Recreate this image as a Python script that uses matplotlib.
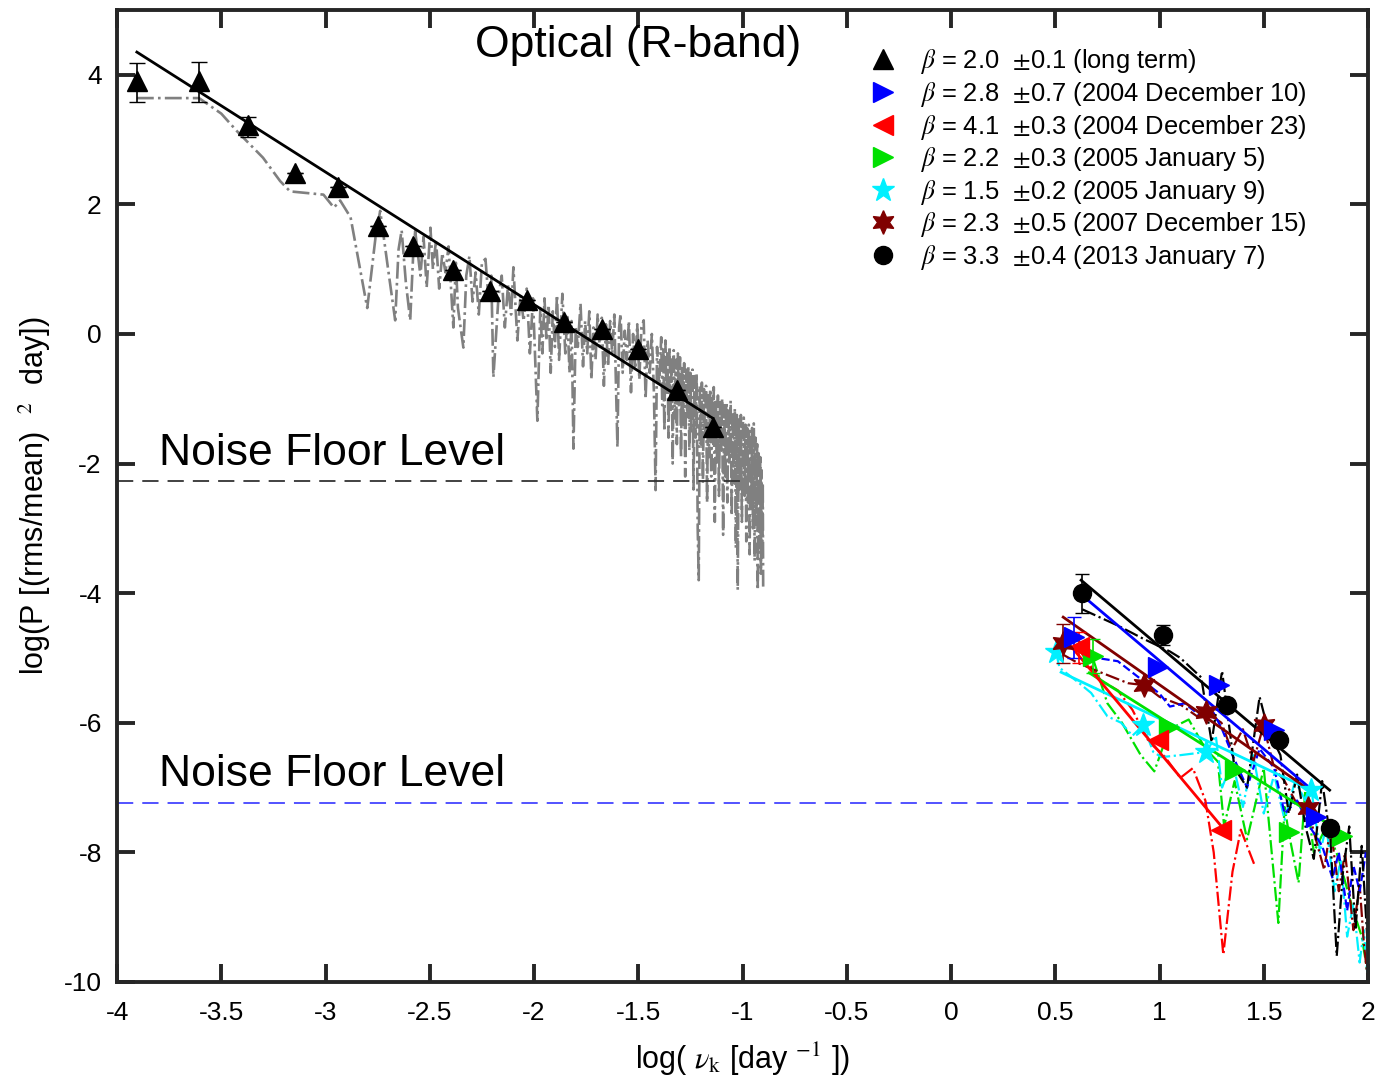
import numpy as np
import matplotlib
matplotlib.use('Agg')
import matplotlib.pyplot as plt
from matplotlib.lines import Line2D

plt.rcParams['font.family'] = ['Liberation Sans', 'DejaVu Sans']
plt.rcParams['mathtext.fontset'] = 'stix'
plt.rcParams['axes.unicode_minus'] = False

# long term optical PDS (binned points)
lt_x = [-3.905, -3.607, -3.372, -3.146, -2.94, -2.747, -2.58, -2.387, -2.21, -2.032,
        -1.854, -1.676, -1.499, -1.316, -1.143]
lt_y = [3.91, 3.91, 3.23, 2.49, 2.27, 1.66, 1.36, 0.98, 0.67, 0.53,
        0.18, 0.08, -0.23, -0.87, -1.43]
lt_elo = [0.33, 0.33, 0.19, 0, 0, 0, 0, 0, 0, 0, 0, 0, 0, 0, 0]
lt_ehi = [0.27, 0.28, 0.12, 0, 0, 0, 0, 0, 0, 0, 0, 0, 0, 0, 0]
lt_fit_x = [-3.905, -1.143]
lt_fit_y = [4.35, -1.30]

# raw long term periodogram (grey)
gx = [-3.905, -3.607, -3.50, -3.425, -3.30, -3.218, -3.17, -3.01, -2.96, -2.93, -2.88,
      -2.800, -2.760, -2.738, -2.700, -2.666, -2.650, -2.635, -2.615, -2.594, -2.580,
      -2.570, -2.545, -2.530, -2.515, -2.497, -2.485, -2.470, -2.455, -2.440, -2.425,
      -2.410, -2.387, -2.375, -2.365, -2.339, -2.325, -2.310, -2.295, -2.280, -2.265,
      -2.250, -2.233, -2.220, -2.205, -2.195, -2.170, -2.155, -2.140, -2.125, -2.110,
      -2.099, -2.080, -2.065, -2.050, -2.035, -2.020, -2.005, -1.984, -1.970,
      -1.960, -1.950, -1.940, -1.930, -1.920, -1.910, -1.900, -1.890, -1.880, -1.864,
      -1.850, -1.840, -1.830, -1.820, -1.811, -1.800, -1.790, -1.777, -1.765, -1.755,
      -1.745, -1.735, -1.725, -1.715, -1.705, -1.695, -1.685, -1.675, -1.665, -1.655,
      -1.645, -1.635, -1.625, -1.615, -1.600, -1.592, -1.585, -1.575, -1.565, -1.555,
      -1.545, -1.535, -1.525, -1.515, -1.505, -1.495, -1.485, -1.474, -1.465, -1.455,
      -1.445, -1.435, -1.425, -1.417, -1.410, -1.400,
      -1.390, -1.385, -1.380, -1.375, -1.370, -1.365, -1.360, -1.355, -1.350, -1.345,
      -1.340, -1.335, -1.330, -1.325, -1.320, -1.315, -1.310, -1.305, -1.300, -1.295,
      -1.290, -1.285, -1.280, -1.275, -1.270, -1.265, -1.260, -1.255, -1.250, -1.245,
      -1.240, -1.235, -1.230, -1.225, -1.220, -1.215, -1.210, -1.205, -1.200, -1.195,
      -1.190, -1.185, -1.180, -1.175, -1.170, -1.165, -1.160, -1.155, -1.150, -1.145,
      -1.140, -1.138, -1.133, -1.128, -1.123, -1.118, -1.113, -1.108, -1.103, -1.098,
      -1.093, -1.088, -1.083, -1.078, -1.073, -1.068, -1.063, -1.057, -1.052, -1.047,
      -1.042, -1.037, -1.032, -1.027, -1.023, -1.018, -1.013, -1.008, -1.003, -0.998,
      -0.994, -0.990, -0.986, -0.982, -0.978, -0.974, -0.970, -0.966, -0.962, -0.958,
      -0.954, -0.950, -0.946, -0.942, -0.938, -0.934, -0.930, -0.927, -0.923, -0.919,
      -0.915, -0.912, -0.909, -0.906, -0.903, -0.901]
gy = [3.64, 3.64, 3.40, 3.13, 2.72, 2.36, 2.20, 2.15, 1.95, 2.06, 1.80,
      0.40, 1.50, 1.90, 1.00, 0.21, 1.30, 1.60, 0.80, 0.21, 1.20,
      1.59, 0.90, 1.50, 0.72, 1.64, 1.00, 1.45, 0.70, 1.25, 0.95,
      1.35, 0.10, 1.10, 0.40, -0.21, 0.90, 1.20, 0.50, 0.95, 0.30,
      1.10, 1.16, 0.60, 0.90, -0.67, 0.60, 0.90, 0.10, 0.75, 0.30,
      1.03, -0.10, 0.60, 0.20, 0.70, -0.30, 0.55, -1.34, 0.40,
      -0.30, 0.55, -0.10, 0.45, -0.60, 0.35, -0.20, 0.60, -0.40, 0.62,
      -0.30, 0.30, -0.60, 0.20, -1.77, 0.10, -0.20, 0.47, -0.50, 0.20,
      -0.30, 0.35, -0.70, 0.10, -0.40, 0.30, -0.20, 0.25, -0.80, 0.15,
      -0.50, 0.20, -0.30, 0.30, -1.75, 0.10, 0.31, -0.60, 0.05, -0.40,
      0.20, -0.90, 0.00, -0.50, 0.15, -0.70, 0.10, 0.21, -1.00, -0.10,
      -0.60, 0.00, -0.90, -2.41, -0.20, -0.80,
      -0.05, -1.10, -0.20, -1.50, -0.10, -0.90, -0.30, -1.60, -0.20, -1.20,
      -0.35, -2.00, -0.25, -1.30, -0.40, -1.70, -0.30, -1.10, -0.36, -1.90,
      -0.50, -1.40, -0.45, -2.20, -0.55, -1.30, -0.50, -1.80, -0.60, -1.50,
      -0.55, -2.40, -0.65, -1.60, -0.61, -3.00, -3.80, -0.80, -1.70, -0.75,
      -2.30, -0.85, -1.60, -0.80, -2.60, -0.90, -1.90, -0.85, -2.20, -0.95,
      -1.70, -0.82, -2.90, -1.00, -2.00, -0.95, -2.50, -1.05, -1.80, -1.00,
      -3.10, -1.10, -2.20, -1.05, -2.60, -1.15, -2.00, -1.03, -2.80, -1.20,
      -2.30, -1.15, -3.30, -1.25, -3.95, -1.30, -2.40, -1.25, -2.90, -1.35,
      -1.29, -2.50, -1.40, -3.20, -1.45, -2.60, -1.40, -3.40, -1.50, -2.70,
      -1.45, -3.00, -1.38, -3.50, -1.60, -2.80, -1.70, -3.95, -1.80, -3.30,
      -1.90, -3.70, -2.10, -3.20, -2.30, -3.90]

# short term (intra-night) PDS: binned points, fits and periodograms
bl_x = [0.591, 0.994, 1.287, 1.547, 1.75]
bl_y = [-4.68, -5.14, -5.42, -6.11, -7.45]
bl_fit_x = [0.639, 1.715]
bl_fit_y = [-4.06, -6.99]
bl_px = [0.591, 0.70, 0.80, 0.90, 1.00, 1.05, 1.12, 1.20, 1.26, 1.30, 1.35, 1.42, 1.48,
         1.55, 1.60, 1.66, 1.72, 1.78, 1.83, 1.86, 1.90, 1.93, 1.96, 1.99]
bl_py = [-4.68, -5.0, -5.05, -5.3, -5.55, -5.75, -5.7, -5.9, -5.85, -6.1, -6.5, -7.0, -6.4,
         -6.7, -7.4, -7.2, -7.6, -7.9, -8.4, -8.0, -8.9, -8.2, -8.6, -8.0]

rd_x = [0.616, 0.994, 1.297]
rd_y = [-4.83, -6.27, -7.65]
rd_fit_x = [0.591, 1.30]
rd_fit_y = [-4.88, -7.61]
rd_px = [0.62, 0.72, 0.80, 0.87, 0.95, 1.02, 1.10, 1.16, 1.22, 1.26, 1.306, 1.35, 1.39, 1.455]
rd_py = [-4.9, -5.35, -5.5, -5.8, -6.3, -6.5, -6.85, -6.7, -7.2, -8.0, -9.58, -8.3, -7.65, -8.19]

gr_x = [0.682, 1.047, 1.36, 1.623, 1.873]
gr_y = [-4.97, -6.07, -6.73, -7.69, -7.74]
gr_fit_x = [0.663, 1.907]
gr_fit_y = [-5.23, -7.76]
gr_px = [0.68, 0.75, 0.82, 0.91, 0.975, 1.047, 1.14, 1.22, 1.28, 1.31, 1.36, 1.42, 1.50,
         1.57, 1.60, 1.62, 1.667, 1.70, 1.74, 1.80, 1.86, 1.92, 1.97, 2.0]
gr_py = [-5.0, -5.7, -6.0, -6.5, -6.75, -6.1, -5.95, -6.4, -6.6, -7.6, -6.9, -7.8, -6.7,
         -9.09, -7.3, -7.7, -8.47, -7.0, -8.0, -7.6, -8.1, -8.8, -9.3, -9.9]

cy_x = [0.504, 0.922, 1.225, 1.729]
cy_y = [-4.91, -6.04, -6.45, -7.04]
cy_fit_x = [0.528, 1.729]
cy_fit_y = [-5.22, -7.04]
cy_px = [0.504, 0.52, 0.60, 0.672, 0.75, 0.816, 0.87, 0.922, 0.97, 1.009, 1.10, 1.225, 1.27,
         1.30, 1.35, 1.40, 1.45, 1.50, 1.55, 1.60, 1.65, 1.70, 1.729, 1.77, 1.80, 1.84,
         1.87, 1.90, 1.93, 1.96, 1.98, 2.0]
cy_py = [-4.91, -5.15, -5.35, -5.54, -5.9, -6.0, -6.2, -6.04, -6.45, -6.53, -6.5, -6.45, -6.2,
         -7.0, -6.6, -7.3, -6.5, -7.4, -6.8, -7.5, -6.9, -7.2, -7.04, -8.0, -7.6, -8.6,
         -8.1, -9.3, -8.8, -9.7, -9.2, -10.0]

mr_x = [0.538, 0.927, 1.225, 1.499, 1.71]
mr_y = [-4.77, -5.42, -5.84, -6.04, -7.32]
mr_fit_x = [0.538, 1.72]
mr_fit_y = [-4.37, -7.04]
mr_px = [0.538, 0.61, 0.70, 0.85, 0.927, 1.00, 1.105, 1.18, 1.225, 1.297, 1.345, 1.40, 1.45,
         1.499, 1.55, 1.60, 1.65, 1.71, 1.75, 1.79, 1.82, 1.86, 1.89, 1.93, 1.96, 1.98, 2.0]
mr_py = [-4.95, -5.08, -5.2, -5.39, -5.42, -5.6, -5.73, -5.9, -5.84, -6.0, -6.42, -6.1, -6.6,
         -6.04, -6.7, -6.9, -7.2, -7.32, -7.8, -8.27, -7.6, -8.6, -8.0, -9.2, -8.5, -9.4, -10.0]

bk_x = [0.629, 1.018, 1.326, 1.575, 1.816]
bk_y = [-4.00, -4.65, -5.72, -6.27, -7.63]
bk_fit_x = [0.624, 1.816]
bk_fit_y = [-3.80, -7.04]
bk_px = [0.63, 0.80, 0.92, 1.05, 1.10, 1.20, 1.25, 1.30, 1.36, 1.42, 1.48, 1.52, 1.58, 1.62,
         1.66, 1.70, 1.74, 1.78, 1.82, 1.85, 1.88, 1.91, 1.94, 1.97, 2.0]
bk_py = [-4.25, -4.5, -4.7, -4.9, -5.0, -5.3, -6.3, -5.2, -6.7, -7.0, -5.6, -6.1, -6.5, -7.4,
         -6.8, -7.6, -8.1, -6.9, -7.8, -9.6, -8.3, -7.6, -9.2, -7.9, -9.5]

# first-bin error bars of the short term sets
eb_x = [0.629, 1.018, 0.591, 0.538, 0.616, 0.682]
eb_lo = [-4.31, -4.80, -5.00, -5.08, -5.08, -5.23]
eb_hi = [-3.71, -4.49, -4.37, -4.47, -4.60, -4.70]
eb_col = ['k', 'k', 'b', '#800000', 'r', '#00e000']

noise_opt = -2.276
noise_opt_x = [-4.0, -0.994]
noise_st = -7.24

labels = [r'$\beta$ = 2.0  $\pm$0.1 (long term)',
          r'$\beta$ = 2.8  $\pm$0.7 (2004 December 10)',
          r'$\beta$ = 4.1  $\pm$0.3 (2004 December 23)',
          r'$\beta$ = 2.2  $\pm$0.3 (2005 January 5)',
          r'$\beta$ = 1.5  $\pm$0.2 (2005 January 9)',
          r'$\beta$ = 2.3  $\pm$0.5 (2007 December 15)',
          r'$\beta$ = 3.3  $\pm$0.4 (2013 January 7)']

fig = plt.figure(figsize=(13.87, 10.83), dpi=100)
ax = fig.add_axes([0.0844, 0.0933, 0.9019, 0.8975])

hexa = (6, 1, 0)
green = '#00e000'
cyan = '#00f0ff'
maroon = '#800000'

ax.plot(gx, gy, ls='-.', color='#808080', lw=1.9, zorder=1)
ax.hlines(noise_opt, noise_opt_x[0], noise_opt_x[1], colors='#333333', linestyles=(0, (9, 5)), lw=1.3, zorder=2)
ax.axhline(noise_st, color='#4444ff', ls=(0, (9, 5)), lw=1.3, zorder=2)

ax.plot(lt_fit_x, lt_fit_y, 'k-', lw=2.0, zorder=3)
ax.errorbar(lt_x, lt_y, yerr=[lt_elo, lt_ehi], fmt='none', ecolor='k', elinewidth=1.2, capsize=6, zorder=3)
ax.plot(lt_x, lt_y, 'k^', ms=15, zorder=4)

# short term periodograms
ax.plot(rd_px, rd_py, ls='-.', color='r', lw=1.6, zorder=2)
ax.plot(gr_px, gr_py, ls='-.', color=green, lw=1.6, zorder=2)
ax.plot(cy_px, cy_py, ls='-.', color=cyan, lw=1.6, zorder=2)
ax.plot(mr_px, mr_py, ls='-.', color=maroon, lw=1.6, zorder=2)
ax.plot(bl_px, bl_py, ls='--', color='b', lw=1.6, zorder=2)
ax.plot(bk_px, bk_py, ls='-.', color='k', lw=1.6, zorder=2)

for fx, fy, c in [(cy_fit_x, cy_fit_y, cyan), (gr_fit_x, gr_fit_y, green),
                  (rd_fit_x, rd_fit_y, 'r'), (mr_fit_x, mr_fit_y, maroon),
                  (bl_fit_x, bl_fit_y, 'b'), (bk_fit_x, bk_fit_y, 'k')]:
    ax.plot(fx, fy, color=c, lw=2.0, zorder=3)

for x, lo, hi, c in zip(eb_x, eb_lo, eb_hi, eb_col):
    ax.errorbar([x], [(lo + hi) / 2], yerr=[[(hi - lo) / 2]], fmt='none', ecolor=c,
                elinewidth=1.2, capsize=5, zorder=3)

ax.plot(cy_x, cy_y, '*', color=cyan, ms=17, ls='none', zorder=4)
ax.plot(gr_x, gr_y, '>', color=green, ms=14, ls='none', zorder=4)
ax.plot(rd_x, rd_y, '<', color='r', ms=14, ls='none', zorder=4)
ax.plot(mr_x, mr_y, marker=hexa, color=maroon, ms=17, ls='none', zorder=4)
ax.plot(bl_x, bl_y, '>', color='b', ms=14, ls='none', zorder=4)
ax.plot(bk_x, bk_y, 'ko', ms=13, ls='none', zorder=5)

ax.text(-3.80, noise_opt + 0.12, 'Noise Floor Level', fontsize=32, ha='left', va='bottom')
ax.text(-3.80, noise_st + 0.12, 'Noise Floor Level', fontsize=32, ha='left', va='bottom')
ax.text(-1.5, 4.45, 'Optical (R-band)', fontsize=32, ha='center', va='center')

handles = [Line2D([], [], ls='none', marker='^', color='k', ms=15),
           Line2D([], [], ls='none', marker='>', color='b', ms=15),
           Line2D([], [], ls='none', marker='<', color='r', ms=15),
           Line2D([], [], ls='none', marker='>', color=green, ms=15),
           Line2D([], [], ls='none', marker='*', color=cyan, ms=17),
           Line2D([], [], ls='none', marker=hexa, color=maroon, ms=17),
           Line2D([], [], ls='none', marker='o', color='k', ms=13)]
ax.legend(handles, labels, loc='upper left', bbox_to_anchor=(0.618, 0.968),
          bbox_transform=fig.transFigure, frameon=False, fontsize=18.4,
          handlelength=1.0, handletextpad=0.95, labelspacing=0.14, borderpad=0)

ax.set_xlim(-4, 2)
ax.set_ylim(-10, 5)
ax.set_xticks(np.arange(-4, 2.01, 0.5))
ax.set_xticklabels(['-4', '-3.5', '-3', '-2.5', '-2', '-1.5', '-1', '-0.5', '0', '0.5', '1', '1.5', '2'])
ax.set_yticks([-10, -8, -6, -4, -2, 0, 2, 4])
ax.tick_params(direction='in', length=13, width=2.8, labelsize=19, top=True, right=True,
               color='#262626')
ax.tick_params(axis='x', pad=14)
ax.tick_params(axis='y', pad=11)
for s in ax.spines.values():
    s.set_linewidth(2.8)
    s.set_color('#262626')

ax.set_xlabel(r'log( $\nu_{\rm k}$ [day $^{-1}$ ])', fontsize=22, labelpad=11)
ax.set_ylabel(r'log(P [(rms/mean)  $^{2}$  day])', fontsize=22, labelpad=8)

fig.savefig('out.png', dpi=100)
